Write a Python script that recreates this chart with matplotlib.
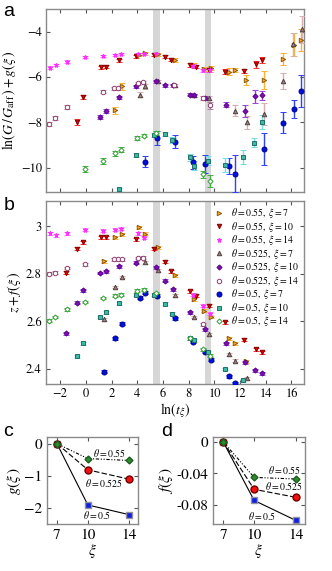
import numpy as np
import matplotlib
matplotlib.use("Agg")
import matplotlib.pyplot as plt
from matplotlib.lines import Line2D

plt.rcParams["font.family"] = "STIXGeneral"
plt.rcParams["mathtext.fontset"] = "stix"

nan = np.nan

# --- paineis a / b : theta=0.55, xi=7
x_055_7 = [1.41, 2.29, 2.81, 4.12, 4.64, 5.6, 6.97, 8.39, 9.22, 9.76, 11.16, 11.62, 12.45, 13.9, 15.35, 16.2, 16.75]
ga_055_7 = [nan, -7.47, -6.4, -5.02, -4.95, -5.0, -5.24, -5.5, -5.65, -5.6, -5.76, -5.69, -6.13, -6.13, -5.21, -4.58, -4.37]
ea_055_7 = [0, 0.15, 0.15, 0.07, 0.07, 0.07, 0.08, 0.1, 0.1, 0.1, 0.15, 0.1, 0.2, 0.4, 0.25, 0.5, 0.5]
zb_055_7 = [2.852, 2.954, 2.966, 2.996, 2.968, 2.912, 2.793, 2.693, 2.645, 2.618, 2.529, 2.508, 2.432, nan, nan, nan, nan]

# theta=0.55, xi=10
x_055_10 = [-1.58, -0.68, -0.22, 1.21, 1.6, 2.55, 3.92, 5.34, 6.19, 6.64, 8.13, 8.57, 9.55, 10.85, 12.34, 13.22, 13.74]
ga_055_10 = [nan, -7.98, -6.87, -5.57, -5.54, -5.27, -5.09, -5.02, -5.1, -5.24, -5.47, -5.54, -5.69, -5.76, -5.73, -5.44, -5.24]
ea_055_10 = [0, 0.12, 0.08, 0.06, 0.06, 0.06, 0.06, 0.06, 0.06, 0.07, 0.08, 0.08, 0.08, 0.1, 0.1, 0.15, 0.12]
zb_055_10 = [2.805, 2.905, 2.933, 2.953, 2.953, nan, 2.945, 2.905, 2.85, 2.81, 2.726, 2.708, 2.666, 2.595, 2.523, 2.483, 2.469]

# theta=0.55, xi=14
x_055_14 = [-2.8, -2.36, -1.46, -0.09, 1.33, 2.24, 2.71, 4.05, 4.51, 5.45, 8.34, 9.12, 9.68]
ga_055_14 = [-5.58, -5.47, -5.32, -5.12, -5.07, -5.04, -5.0, -4.99, -4.97, -5.0, -5.5, -5.7, -5.7]
ea_055_14 = [0.05, 0.05, 0.05, 0.05, 0.05, 0.05, 0.05, 0.05, 0.05, 0.05, 0.06, 0.06, 0.06]
zb_055_14 = [2.971, 2.961, 2.971, 2.985, 2.981, 2.986, 2.989, 2.971, 2.951, nan, 2.712, 2.666, 2.632]

# theta=0.525, xi=7
x_0525_7 = [1.41, 2.29, 2.81, 4.2, 4.64, 5.6, 6.9, 8.39, 9.6, 11.16, 11.57, 12.55, 13.9, 15.33, 16.1, 16.8]
ga_0525_7 = [nan, nan, nan, -6.78, -6.41, -6.19, -6.37, -6.81, -6.93, nan, -7.48, -8.0, -7.63, -6.18, -4.56, -3.89]
ea_0525_7 = [0, 0, 0, 0.1, 0.1, 0.06, 0.07, 0.08, 0.1, 0, 0.25, 0.3, 0.5, 0.35, 0.5, 0.6]
zb_0525_7 = [2.609, 2.744, 2.786, nan, 2.849, 2.814, 2.709, 2.618, 2.546, 2.462, 2.434, 2.361, nan, nan, nan, nan]

# theta=0.525, xi=10
x_0525_10 = [-1.58, -0.68, -0.22, 1.13, 1.6, 2.55, 3.92, 5.45, 6.19, 6.76, 8.13, 8.45, 9.3, 10.88, 12.37, 13.2, 13.74]
ga_0525_10 = [nan, nan, nan, -7.76, -7.49, -6.9, -6.41, -6.18, -6.37, -6.37, -6.78, -6.8, -6.93, -7.21, -7.51, -6.84, -6.81]
ea_0525_10 = [0, 0, 0, 0.1, 0.08, 0.08, 0.07, 0.06, 0.06, 0.06, 0.07, 0.07, 0.1, 0.12, 0.27, 0.29, 0.2]
zb_0525_10 = [2.55, 2.679, 2.731, 2.803, 2.81, 2.831, 2.847, 2.828, 2.771, 2.735, 2.637, nan, 2.566, 2.508, 2.427, 2.394, 2.382]

# theta=0.525, xi=14
x_0525_14 = [-2.88, -2.41, -1.46, -0.09, 1.33, 2.19, 2.5, 2.81, 4.05, 4.45, 6.84, 9.12, 9.68]
ga_0525_14 = [-8.06, -7.81, -7.32, nan, -6.65, -6.5, -6.5, nan, -6.27, -6.22, -6.36, -6.92, -7.24]
ea_0525_14 = [0.08, 0.08, 0.07, 0, 0.06, 0.06, 0.06, 0, 0.06, 0.06, 0.07, 0.1, 0.15]
zb_0525_14 = [2.8, 2.805, 2.824, 2.84, nan, 2.861, 2.861, 2.861, 2.866, 2.868, nan, 2.588, nan]

# theta=0.5, xi=7
x_05_7 = [1.41, 2.29, 2.81, 4.2, 4.64, 5.55, 6.97, 8.34, 9.29, 9.73, 11.16, 11.62, 13.89, 15.37, 16.19, 16.74]
ga_05_7 = [nan, nan, nan, nan, -9.73, -8.69, -8.84, -9.76, -9.84, nan, -9.91, -10.25, -9.17, -8.01, -7.39, -6.62]
ea_05_7 = [0, 0, 0, 0, 0.25, 0.3, 0.3, 0.3, 0.4, 0, 0.35, 0.8, 0.7, 0.45, 0.4, 0.7]
zb_05_7 = [2.387, 2.529, 2.59, 2.7, 2.721, 2.707, 2.613, 2.513, 2.471, 2.438, 2.368, 2.34, nan, nan, nan, nan]

# theta=0.5, xi=10
x_05_10 = [-0.68, -0.22, 1.13, 1.6, 2.55, 3.92, 5.34, 6.19, 6.71, 8.13, 8.39, 9.47, 10.85, 12.26, 13.1, 13.7]
ga_05_10 = [nan, nan, nan, nan, -10.95, -9.44, -8.55, -8.5, -8.77, -9.54, -9.91, -9.69, -9.87, -9.51, -8.9, -7.98]
ea_05_10 = [0, 0, 0, 0, 0.08, 0.1, 0.1, 0.1, 0.12, 0.15, 0.2, 0.2, 0.3, 0.3, 0.2, 0.3]
zb_05_10 = [2.453, 2.508, 2.618, 2.637, 2.676, 2.712, 2.712, 2.674, 2.632, 2.529, 2.52, 2.469, 2.399, 2.352, nan, nan]

# theta=0.5, xi=14
x_05_14 = [-2.88, -2.41, -1.46, -0.09, 1.33, 2.24, 2.71, 4.0, 4.51, 5.42, 8.13, 9.12, 9.68]
ga_05_14 = [nan, nan, nan, -10.06, -9.69, -9.36, -9.2, -8.69, -8.58, -8.46, nan, -10.28, -10.58]
ea_05_14 = [0, 0, 0, 0.12, 0.12, 0.1, 0.1, 0.1, 0.08, 0.1, 0, 0.15, 0.25]
zb_05_14 = [2.602, 2.618, 2.651, 2.681, 2.698, 2.708, 2.712, 2.729, 2.733, 2.719, 2.529, 2.483, 2.455]

# --- paineis c / d
xi_vals = [7, 10, 14]
g_05 = [0, -1.9, -2.2]
g_0525 = [0, -0.81, -1.1]
g_055 = [0, -0.46, -0.52]
f_05 = [0, -0.074, -0.099]
f_0525 = [0, -0.06, -0.07]
f_055 = [0, -0.045, -0.047]

bandas = [(5.25, 5.75), (9.25, 9.75)]

# (x, ya, ea, yb, rotulo, marcador, face, borda, cor do erro, tamanho)
series = [
    (x_055_7, ga_055_7, ea_055_7, zb_055_7, r"$\theta = 0.55,\ \xi = 7$", ">", "#FFA51F", "#8A5A10", "#FFB030", 3.2),
    (x_055_10, ga_055_10, ea_055_10, zb_055_10, r"$\theta = 0.55,\ \xi = 10$", "v", "#E00000", "#800000", "#FF3030", 3.2),
    (x_055_14, ga_055_14, ea_055_14, zb_055_14, r"$\theta = 0.55,\ \xi = 14$", "*", "#FF30FF", "#FF30FF", "#FF70FF", 3.6),
    (x_0525_7, ga_0525_7, ea_0525_7, zb_0525_7, r"$\theta = 0.525,\ \xi = 7$", "^", "#A08080", "#504040", "#D8AEB0", 3.2),
    (x_0525_10, ga_0525_10, ea_0525_10, zb_0525_10, r"$\theta = 0.525,\ \xi = 10$", "D", "#7A10B0", "#5A0090", "#A040D8", 2.6),
    (x_0525_14, ga_0525_14, ea_0525_14, zb_0525_14, r"$\theta = 0.525,\ \xi = 14$", "o", "white", "#8E3C70", "#B87E9E", 3.2),
    (x_05_7, ga_05_7, ea_05_7, zb_05_7, r"$\theta = 0.5,\ \xi = 7$", "o", "#0010E0", "#000090", "#3040FF", 3.6),
    (x_05_10, ga_05_10, ea_05_10, zb_05_10, r"$\theta = 0.5,\ \xi = 10$", "s", "#40B8A8", "#207068", "#70E0E0", 3.0),
    (x_05_14, ga_05_14, ea_05_14, zb_05_14, r"$\theta = 0.5,\ \xi = 14$", "D", "white", "#30A030", "#40B040", 2.6),
]

SPINE = "#8a8a8a"


def estilo(ax, ls=9):
    for s in ax.spines.values():
        s.set_color(SPINE)
        s.set_linewidth(1.0)
    ax.tick_params(direction="in", top=True, right=True, length=3, width=0.8,
                   color="#555555", labelsize=ls, pad=3)


fig = plt.figure(figsize=(3.32, 5.71), dpi=100)
ax_a = fig.add_axes([0.1386, 0.6643, 0.778, 0.32])
ax_b = fig.add_axes([0.1386, 0.327, 0.778, 0.321])
ax_c = fig.add_axes([0.1406, 0.0818, 0.276, 0.1524])
ax_d = fig.add_axes([0.6406, 0.0818, 0.278, 0.1524])

for ax in (ax_a, ax_b):
    for b0, b1 in bandas:
        ax.axvspan(b0, b1, color="#d6d6d6", lw=0, zorder=0)

handles = []
for x, ya, ea, yb, lab, mk, fc, ec, erc, ms in series:
    ax_a.errorbar(x, ya, yerr=ea, fmt=mk, ms=ms, mfc=fc, mec=ec, mew=0.7,
                  ecolor=erc, elinewidth=1.0, capsize=2.2, capthick=1.0, zorder=3)
    eb = [0.006 if not np.isnan(v) else 0 for v in yb]
    ax_b.errorbar(x, yb, yerr=eb, fmt=mk, ms=ms, mfc=fc, mec=ec, mew=0.7,
                  ecolor=erc, elinewidth=1.0, capsize=2.2, capthick=1.0, zorder=3)
    handles.append(Line2D([], [], ls="none", marker=mk, ms=ms, mfc=fc, mec=ec,
                          mew=0.7, label=lab))

ax_a.set_xlim(-3.1, 17.0)
ax_a.set_ylim(-11.05, -3.0)
ax_a.set_yticks([-4, -6, -8, -10])
ax_a.set_xticks(range(-2, 17, 2))
ax_a.set_xticklabels([])
ax_a.set_ylabel(r"$\mathrm{ln}(G\,/\,G_{\mathrm{aff}}\,) + g(\xi\,)$", fontsize=10, labelpad=2)
estilo(ax_a)

ax_b.set_xlim(-3.1, 17.0)
ax_b.set_ylim(2.335, 3.106)
ax_b.set_yticks([2.4, 2.6, 2.8, 3.0])
ax_b.set_yticklabels(["2.4", "2.6", "2.8", "3"])
ax_b.set_xticks(range(-2, 17, 2))
ax_b.set_xlabel(r"$\mathrm{ln}(t_\xi)$", fontsize=10, labelpad=1)
ax_b.set_ylabel(r"$z + f(\xi\,)$", fontsize=10, labelpad=2)
estilo(ax_b)
ax_b.legend(handles=handles, loc="upper right", frameon=False, fontsize=7,
            handlelength=0.8, handletextpad=0.9, labelspacing=-0.05,
            borderaxespad=0.25, borderpad=0.3)

# painel c
ax_c.plot(xi_vals, g_05, color="black", lw=0.8, ls="-", marker="s", ms=4.5,
          mfc="#1020E0", mec="#9090A0", zorder=3)
ax_c.plot(xi_vals, g_0525, color="black", lw=0.8, ls=(0, (5, 2)), marker="o", ms=5,
          mfc="#F01010", mec="#700000", zorder=3)
ax_c.plot(xi_vals, g_055, color="black", lw=0.8, ls=(0, (3, 1.5, 1, 1.5, 1, 1.5)),
          marker="D", ms=3.5, mfc="#2E8B2E", mec="#1E5E1E", zorder=3)
ax_c.set_xlim(6.0, 14.9)
ax_c.set_ylim(-2.5, 0.2)
ax_c.set_xticks(xi_vals)
ax_c.set_yticks([0, -1, -2])
ax_c.set_xlabel(r"$\xi$", fontsize=11, labelpad=0)
ax_c.set_ylabel(r"$g(\xi\,)$", fontsize=11, labelpad=1)
ax_c.text(13.7, -0.28, r"$\theta = 0.55$", fontsize=7, ha="right", va="center")
ax_c.text(13.4, -1.22, r"$\theta = 0.525$", fontsize=7, ha="right", va="center")
ax_c.text(10.9, -2.2, r"$\theta = 0.5$", fontsize=7, ha="center", va="center")
estilo(ax_c, ls=11)

# painel d
ax_d.plot(xi_vals, f_05, color="black", lw=0.8, ls="-", marker="s", ms=4.5,
          mfc="#1020E0", mec="#9090A0", zorder=3)
ax_d.plot(xi_vals, f_0525, color="black", lw=0.8, ls=(0, (5, 2)), marker="o", ms=5,
          mfc="#F01010", mec="#700000", zorder=3)
ax_d.plot(xi_vals, f_055, color="black", lw=0.8, ls=(0, (3, 1.5, 1, 1.5, 1, 1.5)),
          marker="D", ms=3.5, mfc="#2E8B2E", mec="#1E5E1E", zorder=3)
ax_d.set_xlim(6.0, 14.9)
ax_d.set_ylim(-0.104, 0.0055)
ax_d.set_xticks(xi_vals)
ax_d.set_yticks([0, -0.04, -0.08])
ax_d.set_yticklabels(["0", "-0.04", "-0.08"])
ax_d.set_xlabel(r"$\xi$", fontsize=11, labelpad=0)
ax_d.set_ylabel(r"$f(\xi\,)$", fontsize=11, labelpad=1)
ax_d.text(14.45, -0.0355, r"$\theta = 0.55$", fontsize=7, ha="right", va="center")
ax_d.text(14.7, -0.0553, r"$\theta = 0.525$", fontsize=7, ha="right", va="center")
ax_d.text(10.75, -0.094, r"$\theta = 0.5$", fontsize=7, ha="center", va="center")
estilo(ax_d, ls=11)

for lt, xx, yy in [("a", 0.01, 0.995), ("b", 0.01, 0.655), ("c", 0.01, 0.26), ("d", 0.485, 0.26)]:
    fig.text(xx, yy, lt, fontsize=14, family="Liberation Sans", ha="left", va="top")

fig.savefig("out.png", dpi=100)
